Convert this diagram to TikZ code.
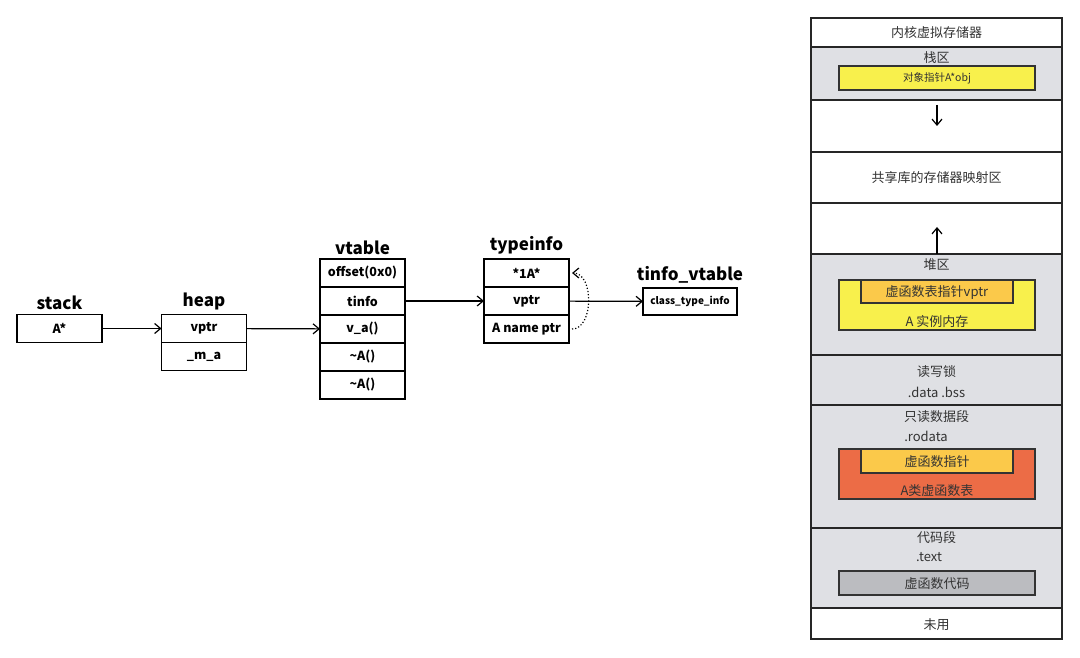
\documentclass[tikz,border=0pt]{standalone}
\usepackage{fontspec}
\setmainfont{Noto Sans CJK SC}
\usetikzlibrary{positioning, arrows.meta}

\definecolor{memgray}{HTML}{DFE0E4}
\definecolor{objyellow}{HTML}{F8F04C}
\definecolor{ptrorange}{HTML}{FBC94A}
\definecolor{tblred}{HTML}{EC6C46}
\definecolor{codegray}{HTML}{BBBCC0}

\tikzset{
	cell/.style = {draw, line width = 1.3pt, minimum width = 85pt, minimum height = 28pt,
		inner sep = 0pt, outer sep = 0pt, font = \bfseries\fontsize{12.5}{14}\selectfont},
	title/.style = {font = \bfseries\fontsize{17}{19}\selectfont},
	seg/.style = {draw = black!85, line width = 1.8pt},
	segtext/.style = {text = black!80, font = \fontsize{13}{15}\selectfont},
	inbox/.style = {draw = black!80, line width = 1.2pt}
}

\begin{document}
\begin{tikzpicture}[x = 1pt, y = -1pt, > = {Straight Barb[length = 6pt, width = 10pt]}]

	\useasboundingbox (0, 0) rectangle (1080, 658);

	% Pointer chain

	\node [cell] (astar) at (59.5, 328.5) {A*};
	\node [title, above = 1pt of astar] (stacklbl) {stack};

	\node [cell] (vptr) at (204, 328.5) {vptr};
	\node [cell, below = 0pt of vptr] (ma) {\_m\_a};
	\node [title, above = 1pt of vptr] (heaplbl) {heap};

	\node [cell] (offset) at (362.5, 273) {offset(0x0)};
	\node [cell, below = 0pt of offset] (tinfo) {tinfo};
	\node [cell, below = 0pt of tinfo] (va) {v\_a()};
	\node [cell, below = 0pt of va] (dtora) {\textasciitilde A()};
	\node [cell, below = 0pt of dtora] (dtorb) {\textasciitilde A()};
	\node [title, above = 1pt of offset] (vtablelbl) {vtable};

	\node [cell] (onea) at (526.5, 273) {*1A*};
	\node [cell, below = 0pt of onea] (tivptr) {vptr};
	\node [cell, below = 0pt of tivptr] (aname) {A name ptr};
	\node [title, above = 1pt of onea] (typeinfolbl) {typeinfo};

	\node [cell, minimum width = 94pt, minimum height = 27pt, font = \bfseries\fontsize{10}{12}\selectfont]
		(classti) at (690, 301.5) {class\_type\_info};
	\node [title, above = 1pt of classti] (tvtablelbl) {tinfo\_vtable};

	\begin{scope}[->, line width = 1.2pt]

		\draw (astar) -- (vptr);
		\draw (vptr) -- (va);
		\draw (tinfo) -- (tivptr);
		\draw (tivptr) -- (classti);
		\draw [dotted] ([xshift = 3pt] aname.east) .. controls +(22, 0) and +(22, 0) .. ([xshift = 3pt] onea.east);

	\end{scope}

	% Virtual memory layout

	\filldraw [seg, fill = white] (811, 18) rectangle (1062, 47);
	\filldraw [seg, fill = memgray] (811, 47) rectangle (1062, 100);
	\filldraw [seg, fill = white] (811, 100) rectangle (1062, 152);
	\filldraw [seg, fill = white] (811, 152) rectangle (1062, 203);
	\filldraw [seg, fill = white] (811, 203) rectangle (1062, 254);
	\filldraw [seg, fill = memgray] (811, 254) rectangle (1062, 355);
	\filldraw [seg, fill = memgray] (811, 355) rectangle (1062, 405);
	\filldraw [seg, fill = memgray] (811, 405) rectangle (1062, 528);
	\filldraw [seg, fill = memgray] (811, 528) rectangle (1062, 608);
	\filldraw [seg, fill = white] (811, 608) rectangle (1062, 639);

	\node [segtext] (kernel) at (936.5, 33) {内核虚拟存储器};

	\node [segtext] (stackseg) at (936.5, 58) {栈区};
	\filldraw [inbox, fill = objyellow] (839, 66) rectangle (1035, 90);
	\node [segtext, font = \fontsize{10.5}{12}\selectfont] (objptr) at (937, 78) {对象指针A*obj};

	\coordinate (downtop) at (937, 105);
	\coordinate (downbot) at (937, 126);
	\draw [->, line width = 1.2pt] (downtop) -- (downbot);

	\node [segtext] (shared) at (936.5, 178) {共享库的存储器映射区};

	\coordinate (upbot) at (937, 254);
	\coordinate (uptop) at (937, 227);
	\draw [->, line width = 1.2pt] (upbot) -- (uptop);

	\node [segtext] (heapseg) at (936.5, 265) {堆区};
	\filldraw [inbox, fill = objyellow] (839, 280) rectangle (1035, 330);
	\filldraw [inbox, fill = ptrorange] (861, 280) rectangle (1013, 303);
	\node [segtext] (vptrmem) at (937, 293) {虚函数表指针vptr};
	\node [segtext] (instance) at (937, 322) {A 实例内存};

	\node [segtext] (rwlock) at (936.5, 372) {读写锁};
	\node [segtext] (databss) at (936.5, 392) {.data .bss};

	\node [segtext] (rodataseg) at (936.5, 417) {只读数据段};
	\node [segtext] (rodata) at (926, 436) {.rodata};
	\filldraw [inbox, fill = tblred] (839, 449) rectangle (1035, 499);
	\filldraw [inbox, fill = ptrorange] (861, 449) rectangle (1013, 473);
	\node [segtext] (vfptr) at (937, 462) {虚函数指针};
	\node [segtext] (vtblmem) at (937, 491) {A类虚函数表};

	\node [segtext] (codeseg) at (936.5, 538) {代码段};
	\node [segtext] (textsec) at (929, 557) {.text};
	\filldraw [inbox, fill = codegray] (839, 571) rectangle (1035, 595);
	\node [segtext] (vfcode) at (937, 584) {虚函数代码};

	\node [segtext] (unused) at (936.5, 625) {未用};

\end{tikzpicture}
\end{document}
